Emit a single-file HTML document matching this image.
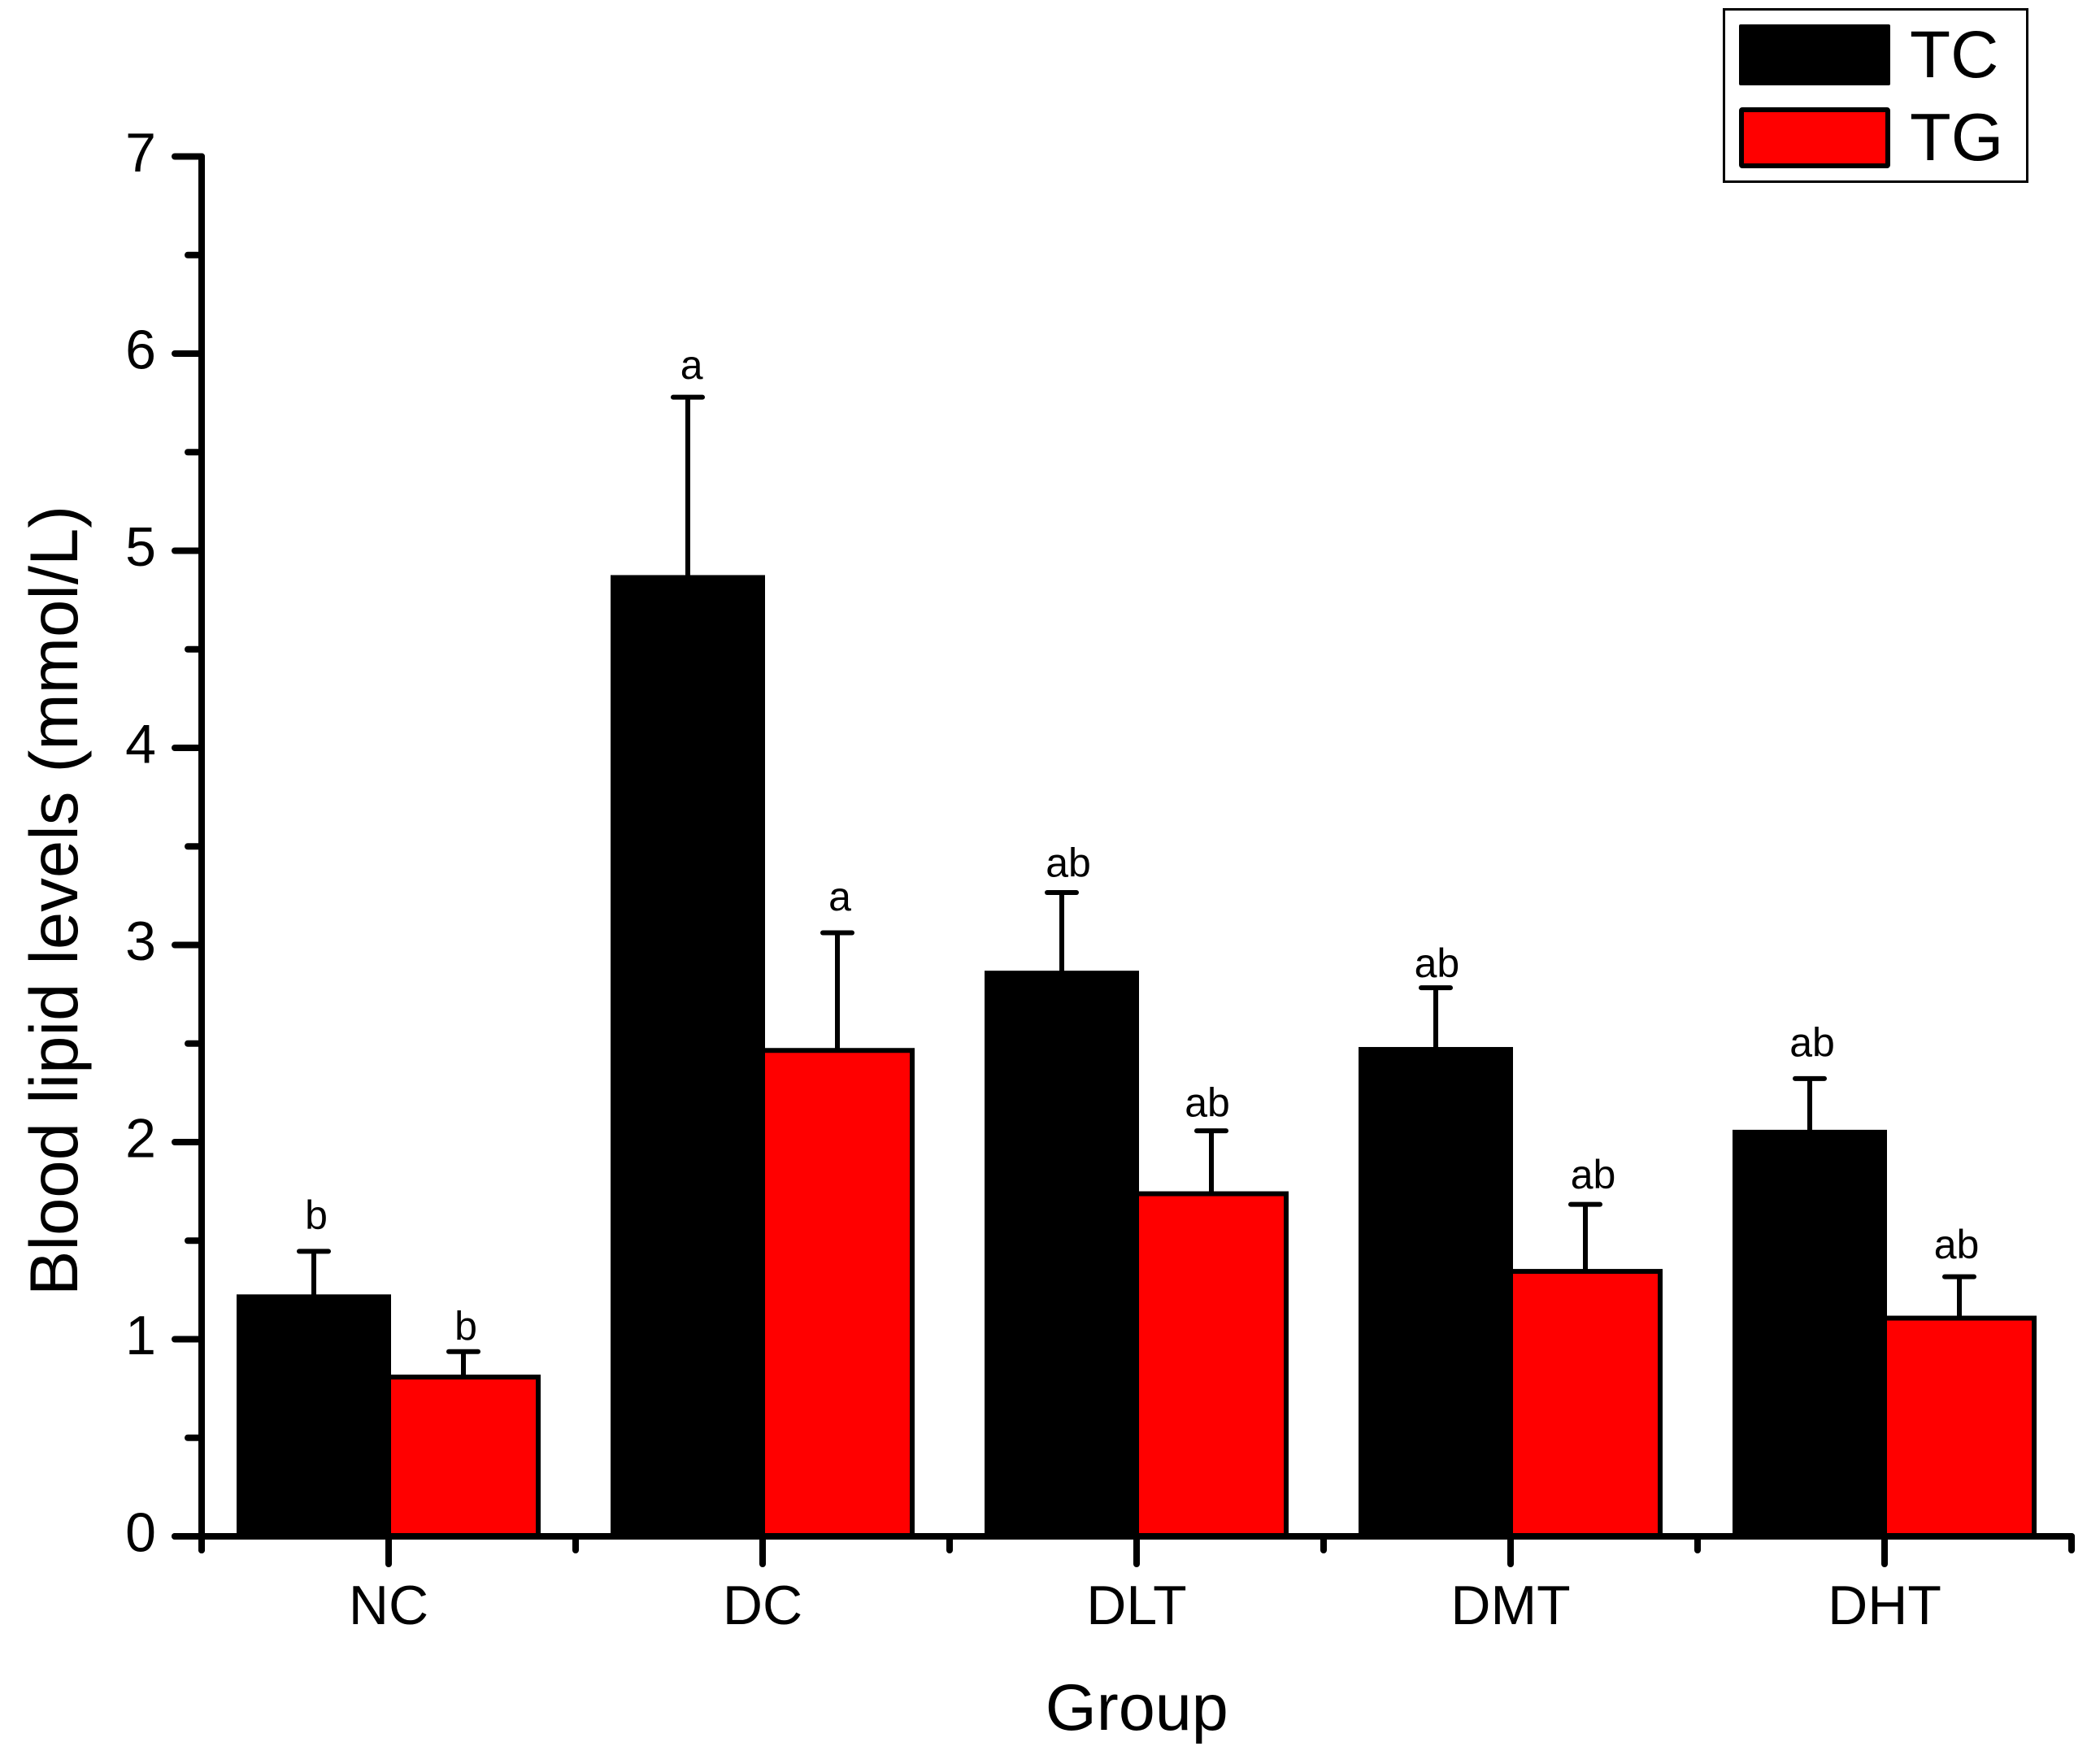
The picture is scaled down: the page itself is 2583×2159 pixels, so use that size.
<!DOCTYPE html>
<html lang="en">
<head>
<meta charset="utf-8">
<title>Blood lipid levels by group</title>
<style>
html,body{margin:0;padding:0;background:#fff;}
svg{display:block;}
text{font-family:"Liberation Sans",Arial,sans-serif;fill:#000;}
</style>
</head>
<body>
<svg id="chart" xmlns="http://www.w3.org/2000/svg" width="2583" height="2159" viewBox="0 0 2583 2159">
  <rect x="0" y="0" width="2583" height="2159" fill="#fff"/>
  <g id="bars"></g>
  <g id="axes"></g>
  <text transform="translate(95,1108) rotate(-90)" text-anchor="middle" font-size="83.3">Blood lipid levels (mmol/L)</text>
  <text x="1398.3" y="2128" text-anchor="middle" font-size="81">Group</text>
  <g>
    <rect x="2120.5" y="11.5" width="373" height="212" fill="#fff" stroke="#000" stroke-width="3"/>
    <rect x="2139" y="30" width="186" height="75" rx="2" fill="#000"/>
    <text x="2349" y="95" font-size="82">TC</text>
    <rect x="2142" y="135" width="180" height="69" rx="1" fill="#f00" stroke="#000" stroke-width="6"/>
    <text x="2349" y="197" font-size="83">TG</text>
  </g>
</svg>
<script>
var categories = ['NC', 'DC', 'DLT', 'DMT', 'DHT'];
var tcValues = [1.215, 4.864, 2.857, 2.47, 2.05];
var tgValues = [0.808, 2.465, 1.738, 1.344, 1.107];
var tcErrors = [0.231, 0.915, 0.409, 0.313, 0.272];
var tgErrors = [0.129, 0.597, 0.319, 0.34, 0.21];
var tcLetters = ['b', 'a', 'ab', 'ab', 'ab'];
var tgLetters = ['b', 'a', 'ab', 'ab', 'ab'];
var yTickLabels = ['0', '1', '2', '3', '4', '5', '6', '7'];

var NS = 'http://www.w3.org/2000/svg';
var barsGroup = document.getElementById('bars');
var axesGroup = document.getElementById('axes');

// Hand placement of the significance letters relative to their error caps.
var tcNudge = [[0, -6.5], [1.6, -1.6], [5, 1.6], [-1.6, 8], [0, -6.5]];
var tgNudge = [[0, 6.5], [0, -6.5], [-8, 3.3], [6.5, 1.6], [-6.5, -1.6]];

function yScale(v) { return 1890 - v * 242.5; }
function xCenter(i) { return 478 + i * 460; }

function make(tag, parent, attrs) {
  var el = document.createElementNS(NS, tag);
  for (var k in attrs) { el.setAttribute(k, attrs[k]); }
  parent.appendChild(el);
  return el;
}

function drawError(cx, mean, err, label, prefix, nudge) {
  var top = yScale(mean + err);
  var stem = make('line', barsGroup, {x1: cx, x2: cx, y1: yScale(mean), y2: top, stroke: '#000', 'stroke-width': 6});
  
  
  var cap = make('line', barsGroup, {x1: cx - 18, x2: cx + 18, y1: top, y2: top, stroke: '#000', 'stroke-width': 6, 'stroke-linecap': 'round'});
  
  
  var t = make('text', barsGroup, {x: cx + 3 + nudge[0], y: top - 21 + nudge[1], 'text-anchor': 'middle', 'font-size': 50});
  t.textContent = label;
  
  
}

categories.forEach(function (cat, i) {
  var c = xCenter(i);
  var key = cat.toLowerCase();

  // TG bar sits underneath so that the TC bar hides its left border.
  var tg = make('rect', barsGroup, {x: c, y: yScale(tgValues[i]), width: 184, height: 1890 - yScale(tgValues[i]), fill: '#f00', stroke: '#000', 'stroke-width': 6});
  
  

  var tcTop = yScale(tcValues[i]) - 3;
  var tc = make('rect', barsGroup, {x: c - 187, y: tcTop, width: 190, height: 1894 - tcTop, fill: '#000'});
  
  

  drawError(c - 92, tcValues[i], tcErrors[i], tcLetters[i], 'tc-' + key, tcNudge[i]);
  drawError(c + 92, tgValues[i], tgErrors[i], tgLetters[i], 'tg-' + key, tgNudge[i]);
});

// Y axis
var yAxisLine = make('line', axesGroup, {x1: 248, x2: 248, y1: yScale(7), y2: 1907, stroke: '#000', 'stroke-width': 8, 'stroke-linecap': 'round'});



yTickLabels.forEach(function (label, i) {
  var v = Number(label);
  var y = yScale(v);
  var tick = make('line', axesGroup, {x1: 215, x2: 248, y1: y, y2: y, stroke: '#000', 'stroke-width': 8, 'stroke-linecap': 'round'});
  
  
  var t = make('text', axesGroup, {x: 192, y: y + 18.3, 'text-anchor': 'end', 'font-size': 68});
  t.textContent = label;
  
  
  if (i < yTickLabels.length - 1) {
    var ym = yScale(v + 0.5);
    var minor = make('line', axesGroup, {x1: 231, x2: 248, y1: ym, y2: ym, stroke: '#000', 'stroke-width': 8, 'stroke-linecap': 'round'});
    
    
  }
});

// X axis
var xAxisLine = make('line', axesGroup, {x1: 215, x2: 2548, y1: 1890, y2: 1890, stroke: '#000', 'stroke-width': 8, 'stroke-linecap': 'round'});



categories.forEach(function (cat, i) {
  var c = xCenter(i);
  var tick = make('line', axesGroup, {x1: c, x2: c, y1: 1890, y2: 1924, stroke: '#000', 'stroke-width': 8, 'stroke-linecap': 'round'});
  
  
  var t = make('text', axesGroup, {x: c, y: 1998, 'text-anchor': 'middle', 'font-size': 68});
  t.textContent = cat;
  
  
});

for (var m = 0; m <= categories.length; m++) {
  var mx = xCenter(m - 0.5);
  var mt = make('line', axesGroup, {x1: mx, x2: mx, y1: 1890, y2: 1907, stroke: '#000', 'stroke-width': 8, 'stroke-linecap': 'round'});
  
  
}
</script>
</body>
</html>
